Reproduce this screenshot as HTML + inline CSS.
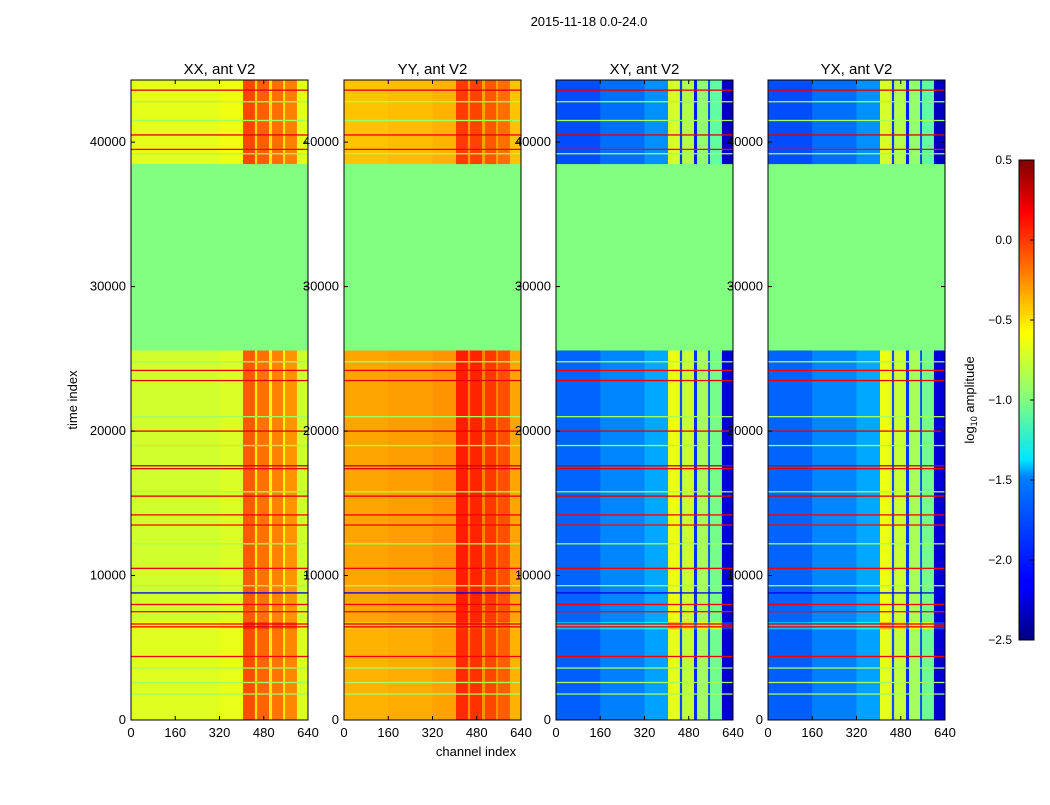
<!DOCTYPE html>
<html><head><meta charset="utf-8">
<style>
body{margin:0;background:#fff;font-family:"Liberation Sans",sans-serif;}
svg text{font-family:"Liberation Sans",sans-serif;}
</style></head>
<body>
<svg id="fig" width="1050" height="800" xmlns="http://www.w3.org/2000/svg">
<rect width="1050" height="800" fill="#fff"/>
<text x="589" y="26" font-size="13" text-anchor="middle">2015-11-18 0.0-24.0</text>
<text transform="translate(77,400) rotate(-90)" font-size="13" text-anchor="middle">time index</text>
<text x="476" y="756" font-size="13" text-anchor="middle">channel index</text>
<g id="panels"></g>
<defs>
<linearGradient id="jet" x1="0" y1="1" x2="0" y2="0">
<stop offset="0" stop-color="#00007f"/><stop offset="0.11" stop-color="#0000ff"/>
<stop offset="0.125" stop-color="#0000ff"/><stop offset="0.34" stop-color="#0080ff"/>
<stop offset="0.375" stop-color="#00e5ff"/><stop offset="0.5" stop-color="#7fff7f"/>
<stop offset="0.64" stop-color="#ffff00"/><stop offset="0.75" stop-color="#ff8c00"/>
<stop offset="0.89" stop-color="#ff0000"/><stop offset="1" stop-color="#7f0000"/>
</linearGradient>
</defs>
<rect x="1019" y="160" width="15" height="480" fill="url(#jet)" stroke="#000" stroke-width="1"/>
<g id="cbticks"></g>
<text transform="translate(974,400) rotate(-90)" font-size="13" text-anchor="middle">log<tspan font-size="9" dy="3">10</tspan><tspan dy="-3"> amplitude</tspan></text>
</svg>
<script>
const panelTitles = ["XX, ant V2","YY, ant V2","XY, ant V2","YX, ant V2"];
const timeEdges = [0, 6300, 6800, 25600, 38500, 44300];
const segActive = [1, 1, 1, 0, 1];
const panelBase = [
  [-0.72, -0.62, -0.76, -1.0, -0.7],
  [-0.4, -0.45, -0.36, -1.0, -0.45],
  [-1.9, -1.6, -1.88, -1.0, -1.95],
  [-1.9, -1.6, -1.88, -1.0, -1.95]
];
const channelEdges = [0,160,320,405,448,456,499,510,550,557,600,640];
const channelOffsets = [
  [0.0,0.0,0.03,0.62,0.2,0.55,0.15,0.5,0.15,0.45,0.0],
  [0.0,0.02,0.05,0.4,0.12,0.38,0.1,0.32,0.1,0.25,0.0],
  [0.05,0.15,0.25,1.2,0.0,1.1,-0.1,1.0,0.0,0.85,-0.35],
  [0.05,0.15,0.25,1.2,0.0,1.1,-0.1,1.0,0.0,0.85,-0.35]
];
const lineTimes = [1800,2600,3600,4400,6450,6650,7500,8000,8800,9300,10500,12200,13500,14200,15500,15800,17400,17600,19000,20000,21000,23500,24200,24800,39200,39500,40500,41500,42800,43600];
const lineValues = [-0.9,-0.9,-0.9,0.15,0.2,0.2,0.1,0.15,-2.2,-0.9,0.15,-0.9,0.1,0.15,0.2,-0.9,0.2,0.25,-0.9,0.2,-0.9,0.2,0.15,-0.9,-0.9,0.15,0.2,-0.9,-0.9,0.2];
const yTicks = [0,10000,20000,30000,40000];
const xTicks = [0,160,320,480,640];
const cbTicks = [0.5,0.0,-0.5,-1.0,-1.5,-2.0,-2.5];
const cbLabels = ["0.5","0.0","\u22120.5","\u22121.0","\u22121.5","\u22122.0","\u22122.5"];

const panelX = [131,344,556,768], pw=177, plotTop=80, plotBot=720, tMax=44300, vmin=-2.5, vmax=0.5;
const NS="http://www.w3.org/2000/svg";
function yScale(t){return plotBot-(t/tMax)*(plotBot-plotTop);}
function xScale(c,p){return panelX[p]+c/640*pw;}
function jet(v){
  let x=(v-vmin)/(vmax-vmin); x=Math.max(0,Math.min(1,x));
  const f=(a)=>Math.max(0,Math.min(1,a));
  const r=f(1.5-Math.abs(4*x-3)), g=f(1.5-Math.abs(4*x-2)), b=f(1.5-Math.abs(4*x-1));
  return `rgb(${Math.round(r*255)},${Math.round(g*255)},${Math.round(b*255)})`;
}
function mk(tag,attrs,parent){const e=document.createElementNS(NS,tag);for(const k in attrs)e.setAttribute(k,attrs[k]);parent.appendChild(e);return e;}
const G=document.getElementById('panels');
for(let p=0;p<4;p++){
  const g=mk('g',{},G);
  
  
  for(let s=0;s<timeEdges.length-1;s++){
    for(let c=0;c<channelEdges.length-1;c++){
      const v=panelBase[p][s]+channelOffsets[p][c]*segActive[s];
      const x0=xScale(channelEdges[c],p), x1=xScale(channelEdges[c+1],p);
      const y0=yScale(timeEdges[s+1]), y1=yScale(timeEdges[s]);
      const r=mk('rect',{x:x0,y:y0,width:x1-x0+0.3,height:y1-y0+0.3,fill:jet(v)},g);
      
      
    }
  }
  for(let i=0;i<lineTimes.length;i++){
    const t=lineTimes[i]; const inGap=t>timeEdges[3]&&t<timeEdges[4]; if(inGap)continue;
    const y=yScale(t);
    const l=mk('rect',{x:panelX[p],y:y-0.6,width:pw,height:1.3,fill:jet(lineValues[i])},g);
    
    
  }
  mk('rect',{x:panelX[p],y:plotTop,width:pw,height:plotBot-plotTop,fill:'none',stroke:'#000','stroke-width':1},g);
  const tt=mk('text',{x:panelX[p]+pw/2,y:74,'font-size':15,'text-anchor':'middle'},g);
  tt.textContent=panelTitles[p];
  
  
  yTicks.forEach(t=>{
    const y=yScale(t);
    mk('line',{x1:panelX[p],x2:panelX[p]+4,y1:y,y2:y,stroke:'#000'},g);
    mk('line',{x1:panelX[p]+pw-4,x2:panelX[p]+pw,y1:y,y2:y,stroke:'#000'},g);
    const lb=mk('text',{x:panelX[p]-5,y:y+4,'font-size':13,'text-anchor':'end'},g);
    lb.textContent=t;
    
    
  });
  xTicks.forEach(c=>{
    const x=xScale(c,p);
    mk('line',{x1:x,x2:x,y1:plotBot,y2:plotBot-4,stroke:'#000'},g);
    mk('line',{x1:x,x2:x,y1:plotTop,y2:plotTop+4,stroke:'#000'},g);
    const lb=mk('text',{x:x,y:plotBot+17,'font-size':13,'text-anchor':'middle'},g);
    lb.textContent=c;
    
    
  });
}
const CB=document.getElementById('cbticks');
cbTicks.forEach((v,i)=>{
  const y=640-(v-vmin)/(vmax-vmin)*480;
  mk('line',{x1:1034,x2:1030,y1:y,y2:y,stroke:'#000'},CB);
  const lb=mk('text',{x:1012,y:y+4,'font-size':12,'text-anchor':'end'},CB);
  lb.textContent=cbLabels[i];
  
  
});
</script>
</body></html>
